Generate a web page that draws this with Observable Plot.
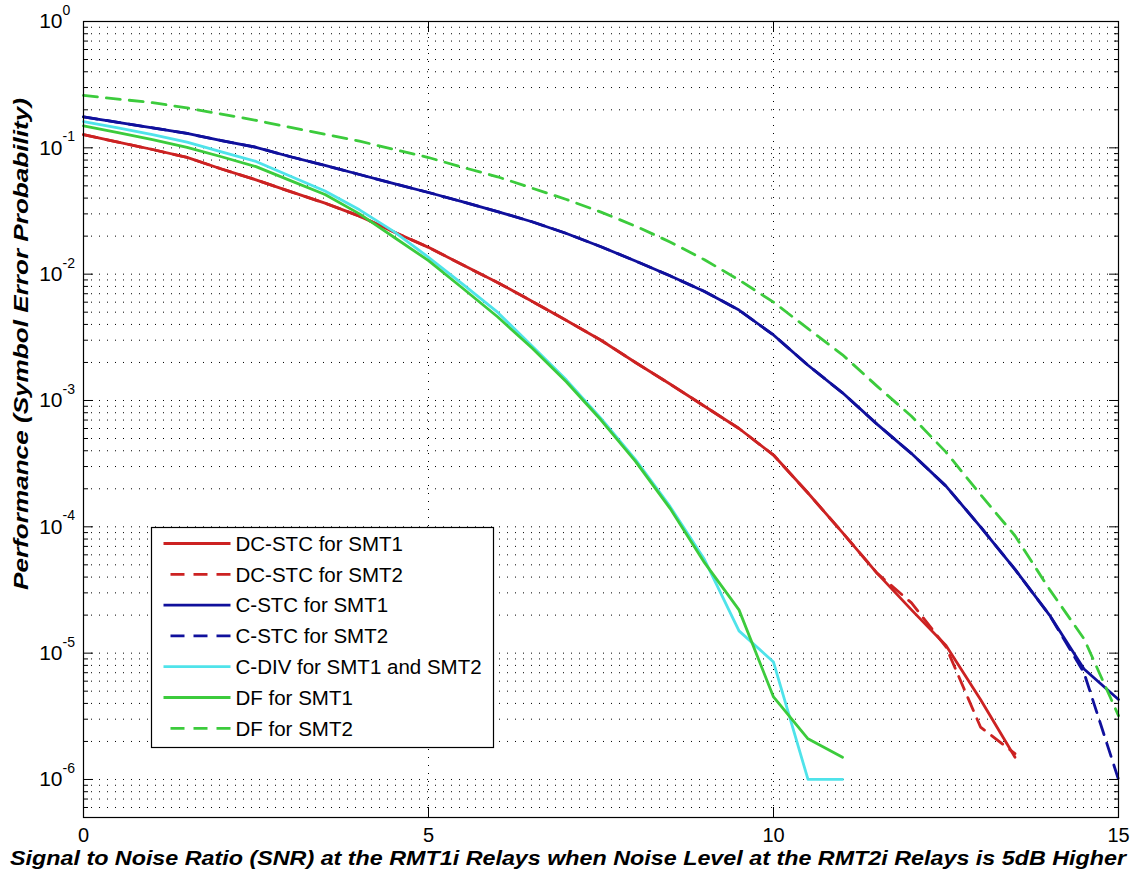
<!DOCTYPE html>
<html><head><meta charset="utf-8">
<script src="https://cdn.jsdelivr.net/npm/d3@7"></script>
<script src="https://cdn.jsdelivr.net/npm/@observablehq/plot@0.6"></script>
<style>
body{margin:0;background:#fff;}
#chart{position:relative;width:1133px;height:877px;}
</style></head><body><div id="chart"></div>
<script>
// ---- data ----
const snr = [0,0.5,1,1.5,2,2.5,3,3.5,4,4.5,5,5.5,6,6.5,7,7.5,8,8.5,9,9.5,10,10.5,11,11.5,12,12.5,13,13.5,14,14.5,15];
const dcstcSMT1 = [0.127,0.111,0.097,0.084,0.068,0.0558,0.045,0.0365,0.0288,0.0216,0.0163,0.0118,0.0086,0.0061,0.0043,0.003,0.002,0.00135,0.0009,0.0006,0.00037,0.000185,0.00009,0.000043,0.000022,0.0000115,0.0000043,0.0000015];
const dcstcSMT2 = [0.127,0.111,0.097,0.084,0.068,0.0558,0.045,0.0365,0.0288,0.0216,0.0163,0.0118,0.0086,0.0061,0.0043,0.003,0.002,0.00135,0.0009,0.0006,0.00037,0.000185,0.00009,0.000043,0.000025,0.0000112,0.0000026,0.0000016];
const cstcSMT1 = [0.176,0.159,0.144,0.13,0.114,0.101,0.085,0.0725,0.0615,0.052,0.0443,0.0373,0.0313,0.026,0.021,0.0165,0.0127,0.0097,0.0073,0.0052,0.0033,0.0019,0.00115,0.00065,0.00038,0.00021,0.0001,0.000046,0.00002,0.0000075,0.0000043];
const cstcSMT2 = [0.176,0.159,0.144,0.13,0.114,0.101,0.085,0.0725,0.0615,0.052,0.0443,0.0373,0.0313,0.026,0.021,0.0165,0.0127,0.0097,0.0073,0.0052,0.0033,0.0019,0.00115,0.00065,0.00038,0.00021,0.0001,0.000046,0.00002,0.000007,0.000001];
const cdivBoth = [0.161,0.144,0.127,0.111,0.093,0.078,0.0595,0.0455,0.0323,0.0217,0.0136,0.0083,0.005,0.0027,0.00145,0.00072,0.00034,0.000145,0.000055,0.000015,0.0000085,0.000001,0.000001];
const dfSMT1 = [0.149,0.132,0.116,0.101,0.085,0.071,0.055,0.0427,0.03,0.0196,0.0128,0.0077,0.0046,0.0026,0.0014,0.0007,0.00033,0.00014,0.000052,0.000022,0.0000045,0.0000021,0.0000015];
const dfSMT2 = [0.26,0.243,0.228,0.207,0.185,0.165,0.145,0.128,0.113,0.097,0.0838,0.07,0.059,0.048,0.039,0.031,0.024,0.018,0.013,0.009,0.006,0.0037,0.0023,0.0013,0.00075,0.00039,0.00018,0.000085,0.000032,0.000013,0.0000032];

const seriesNames = ["DC-STC for SMT1","DC-STC for SMT2","C-STC for SMT1","C-STC for SMT2","C-DIV for SMT1 and SMT2","DF for SMT1","DF for SMT2"];
const seriesValues = [dcstcSMT1,dcstcSMT2,cstcSMT1,cstcSMT2,cdivBoth,dfSMT1,dfSMT2];
const seriesColors = ["#cc2222","#cc2222","#10109c","#10109c","#4fe3ea","#3ccb3c","#3ccb3c"];
const seriesDash = [null,"14,9",null,"14,9",null,null,"14,9"];

const xTicks = [0,5,10,15];
const xGrid = [5,10];
const yMajor = [1,1e-1,1e-2,1e-3,1e-4,1e-5,1e-6];
const minorMult = [2,3,4,5,6,7,8,9];
const yDomain = [5e-7, 1];

const xTitle = "Signal to Noise Ratio (SNR) at the RMT1i Relays when Noise Level at the RMT2i Relays is 5dB Higher";
const yTitle = "Performance (Symbol Error Probability)";

// ---- derived ----
const yMinor = [];
for (let e = -7; e <= -1; e++) for (const m of minorMult) {
  const v = m * Math.pow(10, e);
  if (v >= yDomain[0] && v < yDomain[1]) yMinor.push(v);
}
const yGridAll = yMajor.concat(yMinor).filter(v => v > yDomain[0] && v < yDomain[1]);

const rowsOf = i => seriesValues[i].map((p, j) => ({snr: snr[j], p, name: seriesNames[i]}));

const lineMarks = seriesNames.map((n, i) => Plot.line(rowsOf(i), {
  x: "snr", y: "p", stroke: seriesColors[i], strokeWidth: 2.8,
  strokeDasharray: seriesDash[i] || undefined, strokeLinejoin: "round"
}));

const plot = Plot.plot({
  width: 1133, height: 877,
  marginLeft: 83, marginRight: 15, marginTop: 21, marginBottom: 60,
  style: {fontFamily: "'Liberation Sans', Arial, sans-serif", background: "white", color: "black"},
  x: {domain: [0, 15]},
  y: {type: "log", domain: yDomain},
  marks: [
    Plot.ruleY(yGridAll, {y: d => d, stroke: "#000", strokeWidth: 1, strokeDasharray: "1,7"}),
    Plot.ruleX(xGrid, {x: d => d, stroke: "#000", strokeWidth: 1, strokeDasharray: "1,7"}),
    ...lineMarks,
    Plot.frame({stroke: "#000", strokeWidth: 1.2}),
    Plot.axisY({ticks: yMajor, anchor: "left", tickSize: -10, tickFormat: () => "", label: null}),
    Plot.axisY({ticks: yMinor, anchor: "left", tickSize: -5, tickFormat: () => "", label: null}),
    Plot.axisY({ticks: yMajor, anchor: "right", tickSize: -10, tickFormat: () => "", label: null}),
    Plot.axisY({ticks: yMinor, anchor: "right", tickSize: -5, tickFormat: () => "", label: null}),
    Plot.axisX({ticks: xTicks, anchor: "bottom", tickSize: -10, tickFormat: () => "", label: null}),
    Plot.axisX({ticks: xTicks, anchor: "top", tickSize: -10, tickFormat: () => "", label: null}),
    Plot.axisX({ticks: xTicks, anchor: "bottom", tickSize: 0, tickPadding: 10, fontSize: 20, label: null, tickFormat: d => String(d)}),
    Plot.text(yMajor, {y: d => d, frameAnchor: "left", text: () => "10", textAnchor: "end", dx: -21, fontSize: 21, fill: "#000"}),
    Plot.text(yMajor, {y: d => d, frameAnchor: "left", text: d => String(Math.round(Math.log10(d)) || 0), textAnchor: "start", dx: -21, dy: -11, fontSize: 14, fill: "#000"})
  ]
});
document.getElementById("chart").appendChild(plot);

const svg = d3.select(plot);

// axis titles
svg.append("text")
  .attr("x", 10).attr("y", 865)
  .attr("text-anchor", "start")
  .attr("font-size", 20).attr("font-weight", "bold").attr("font-style", "italic")
  .attr("textLength", 1116).attr("lengthAdjust", "spacingAndGlyphs")
  .attr("fill", "#000")
  .text(xTitle);
svg.append("text")
  .attr("transform", "translate(28,590) rotate(-90)")
  .attr("text-anchor", "start")
  .attr("font-size", 20).attr("font-weight", "bold").attr("font-style", "italic")
  .attr("textLength", 492).attr("lengthAdjust", "spacingAndGlyphs")
  .attr("fill", "#000")
  .text(yTitle);

// legend box
const lg = svg.append("g").attr("transform", "translate(151.5,527.5)");
lg.append("rect").attr("width", 342).attr("height", 220).attr("fill", "#fff").attr("stroke", "#000").attr("stroke-width", 1.2);
seriesNames.forEach((n, i) => {
  const cy = 16 + i * 30.8;
  lg.append("line").attr("x1", 12).attr("x2", 79).attr("y1", cy).attr("y2", cy)
    .attr("stroke", seriesColors[i]).attr("stroke-width", 2.8)
    .attr("stroke-dasharray", seriesDash[i] ? "14,9" : null)
    .attr("stroke-dashoffset", seriesDash[i] ? -7 : null);
  lg.append("text").attr("x", 84).attr("y", cy).attr("dy", "0.36em")
    .attr("text-anchor", "start")
    .attr("font-size", 20.5).attr("fill", "#000").text(n);
});
</script>
</body></html>
